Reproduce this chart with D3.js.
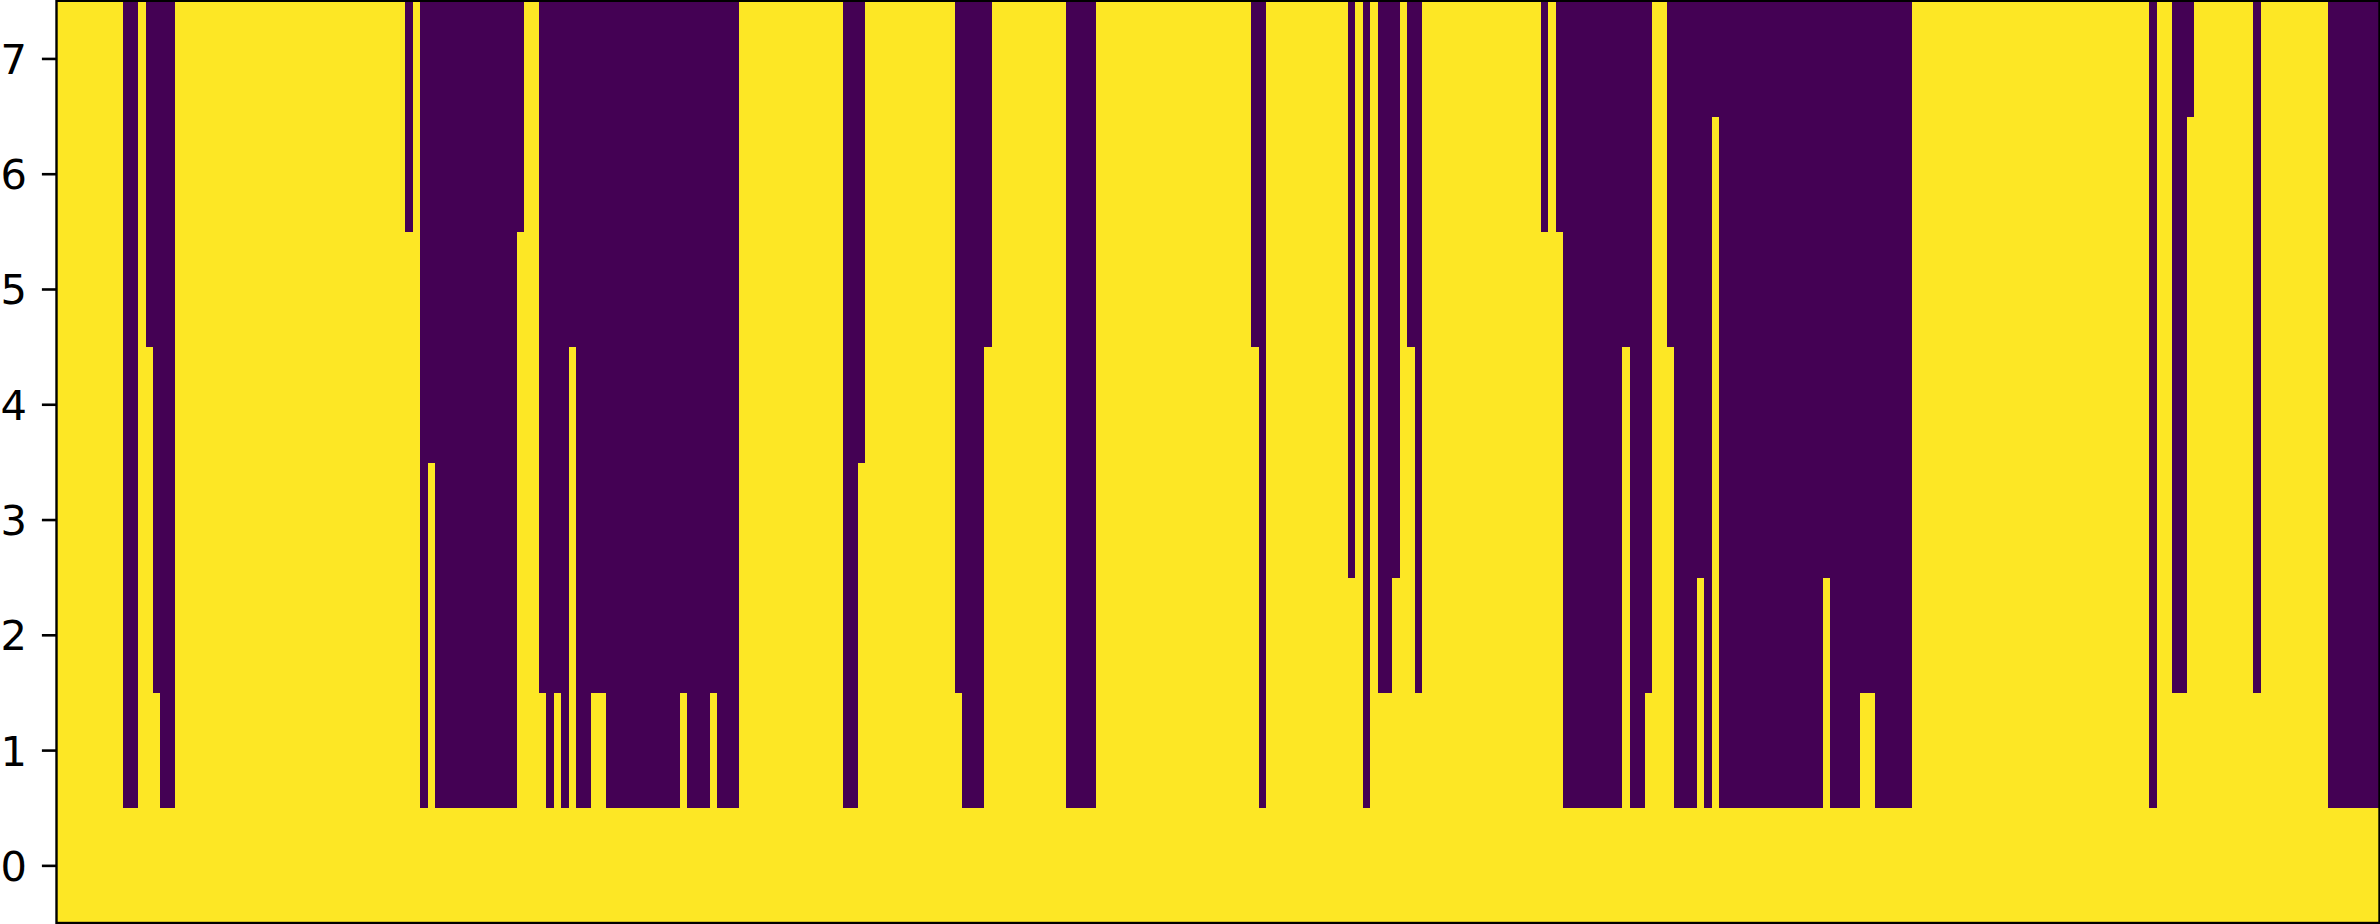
<!DOCTYPE html>
<html>
<head>
<meta charset="utf-8">
<script src="https://cdn.jsdelivr.net/npm/d3@7/dist/d3.min.js"></script>
<style>
  html, body { margin: 0; padding: 0; background: #ffffff; }
  svg { display: block; }
  .tick text { font-family: "DejaVu Sans", sans-serif; }
</style>
</head>
<body>
<svg id="chart" width="2380" height="924"></svg>
<script>
// Number of yellow (value 1) cells counted from row 0 upward, one entry per column.
const columnFill = [
  8,8,8,8,8,8,8,8,8, 1,1, 8, 5, 2, 1,1,
  8,8,8,8,8,8,8,8,8,8, 8,8,8,8,8,8,8,8,8,8, 8,8,8,8,8,8,8,8,8,8, 8,
  6,8,1,4, 1,1,1,1,1,1,1,1,1,1,1, 6,8,8,2,1,2,1,5,1,1,2,2,
  1,1,1,1,1,1,1,1,1,1, 2, 1,1,1, 2, 1,1,1,
  8,8,8,8,8,8,8,8,8,8,8,8,8,8, 1,1, 4, 8,8,8,8,8,8,8,8,8,8,8,8, 2, 1,1,1, 5,
  8,8,8,8,8,8,8,8,8,8, 1,1,1,1, 8,8,8,8,8,8,8,8,8,8,8,8,8,8,8,8,8,8,8,8,8, 5, 1,
  8,8,8,8,8,8,8,8,8,8,8, 3, 8, 1, 8, 2,2, 3, 8, 5, 2, 8,8,8,8,8,8,8,8,8,8,8,8,8,8,8,8, 6, 8, 6,
  1,1,1,1,1,1,1,1, 5, 1,1, 2, 8,8, 5, 1,1,1, 3, 1, 7, 1,1,1,1,1,1,1,1,1,1,1,1,1,1, 3, 1,1,1,1, 2,2, 1,1,1,1,1,
  8,8,8,8,8,8,8,8,8,8,8,8,8,8,8,8,8,8,8,8,8,8,8,8,8,8,8,8,8,8,8,8, 1, 8,8, 2,2, 7, 8,8,8,8,8,8,8,8, 2, 8,8,8,8,8,8,8,8,8, 1,1,1,1,1,1,1
];
const rows = [0, 1, 2, 3, 4, 5, 6, 7];
const yTickValues = [0, 1, 2, 3, 4, 5, 6, 7];
const yTickLabels = ["0", "1", "2", "3", "4", "5", "6", "7"];

const nCols = columnFill.length;
const cols = d3.range(nCols);
const cells = [];
cols.forEach(c => rows.forEach(r => cells.push({ c, r, v: r < columnFill[c] ? 1 : 0 })));

const plotLeft = 56.5, plotRight = 2379.5, plotTop = 0.8, plotBottom = 923;
const svg = d3.select("#chart");

const x = d3.scaleBand().domain(cols).range([plotLeft, plotRight]).paddingInner(0).paddingOuter(0);
const y = d3.scaleLinear().domain([-0.5, 7.5]).range([plotBottom, plotTop]);
const color = d3.scaleSequential(d3.interpolateViridis).domain([0, 1]);

svg.append("g")
  .attr("shape-rendering", "crispEdges")
  .selectAll("rect")
  .data(cells)
  .join("rect")
  .attr("x", d => x(d.c))
  .attr("width", x.bandwidth() + 0.6)
  .attr("y", d => y(d.r + 0.5))
  .attr("height", d => y(d.r - 0.5) - y(d.r + 0.5) + 0.6)
  .attr("fill", d => color(d.v));

const yAxis = d3.axisLeft(y)
  .tickValues(yTickValues)
  .tickFormat((d, i) => yTickLabels[i])
  .tickSize(14.6)
  .tickPadding(15);

const ag = svg.append("g").attr("transform", `translate(${plotLeft},0)`).call(yAxis);
ag.select(".domain").remove();
ag.selectAll(".tick line").attr("stroke", "#000").attr("stroke-width", 2.6);
ag.selectAll(".tick text")
  .attr("fill", "#000")
  .attr("font-size", 41.6)
  .attr("dy", "0.36em");

svg.append("rect")
  .attr("x", plotLeft)
  .attr("y", plotTop)
  .attr("width", plotRight - plotLeft)
  .attr("height", plotBottom - plotTop)
  .attr("fill", "none")
  .attr("stroke", "#000")
  .attr("stroke-width", 2.4);
</script>
</body>
</html>
